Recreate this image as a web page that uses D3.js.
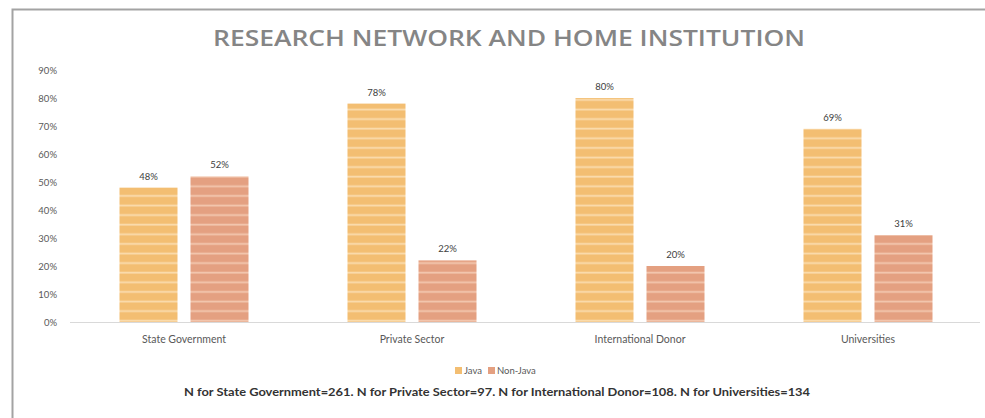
<!DOCTYPE html>
<html>
<head>
<meta charset="utf-8">
<script src="https://cdn.jsdelivr.net/npm/d3@7"></script>
<style>
  html, body { margin: 0; padding: 0; background: #fff; }
  svg { display: block; }
</style>
</head>
<body>
<svg id="chart" width="985" height="418"></svg>
<script>
// Share of researchers by research network and home institution
const categories = ["State Government", "Private Sector", "International Donor", "Universities"];
const seriesNames = ["Java", "Non-Java"];
const javaValues = [48, 78, 80, 69];
const nonJavaValues = [52, 22, 20, 31];
const yTickValues = [0, 10, 20, 30, 40, 50, 60, 70, 80, 90];
const titleText = "RESEARCH NETWORK AND HOME INSTITUTION";
const noteText = "N for State Government=261. N for Private Sector=97. N for International Donor=108. N for Universities=134";

const seriesValues = { "Java": javaValues, "Non-Java": nonJavaValues };
const colors = { "Java": "#F3BE72", "Non-Java": "#E4A081" };
const stripeColors = { "Java": "#FADCAE", "Non-Java": "#F3C7AF" };

const svg = d3.select("#chart");
const baseY = 322;
const plotLeft = 70, plotRight = 982;

const x = d3.scaleBand().domain(categories).range([plotLeft, plotRight]).padding(0);
const xs = d3.scaleBand().domain(seriesNames).range([0, x.bandwidth()])
  .paddingInner(13 / 71).paddingOuter(0.697);
const y = d3.scaleLinear().domain([0, 90]).range([baseY, 70]);

// Outer frame (top and left edges)
svg.append("path")
  .attr("d", "M12.5,418 L12.5,9.5 L985,9.5")
  .attr("fill", "none").attr("stroke", "#a3a3a3").attr("stroke-width", 2);

// Striped fills for bars
const defs = svg.append("defs");
seriesNames.forEach((s, i) => {
  const p = defs.append("pattern")
    .attr("id", "stripe" + i)
    .attr("patternUnits", "userSpaceOnUse")
    .attr("width", 10).attr("height", 9.6)
    .attr("y", baseY);
  p.append("rect").attr("width", 10).attr("height", 9.6).attr("fill", colors[s]);
  p.append("rect").attr("y", 7.4).attr("width", 10).attr("height", 1.8).attr("fill", stripeColors[s]);
});

// Title
svg.append("text")
  .attr("x", 509).attr("y", 46)
  .attr("text-anchor", "middle")
  .attr("font-family", "'Open Sans', Lato, sans-serif")
  .attr("font-weight", 600)
  .attr("font-size", 21)
  .attr("fill", "#858585")
  .attr("textLength", 592)
  .attr("lengthAdjust", "spacingAndGlyphs")
  .text(titleText);

// Y axis labels (no line, no ticks)
const yAxis = d3.axisLeft(y).tickValues(yTickValues).tickSize(0).tickPadding(0)
  .tickFormat(d => d + "%");
const yg = svg.append("g").attr("transform", "translate(57,0)").call(yAxis);
yg.select(".domain").remove();
yg.selectAll("text")
  .attr("font-family", "Lato, sans-serif").attr("font-size", 9.5).attr("fill", "#595959");

// Baseline and category labels
const xAxis = d3.axisBottom(x).tickSize(0).tickPadding(14);
const xg = svg.append("g").attr("transform", `translate(0,${baseY})`).call(xAxis);
xg.select(".domain").attr("stroke", "#d9d9d9").attr("stroke-width", 1.2)
  .attr("d", `M${plotLeft},0.5H${plotRight - 2}`);
xg.selectAll("text")
  .attr("font-family", "Lato, sans-serif").attr("font-size", 10.5).attr("fill", "#595959");

// Bars
const groups = svg.append("g").selectAll("g")
  .data(categories).join("g")
  .attr("transform", d => `translate(${x(d)},0)`);

seriesNames.forEach((s, si) => {
  groups.append("rect")
    .attr("x", xs(s))
    .attr("width", xs.bandwidth())
    .attr("y", (d, i) => y(seriesValues[s][i]))
    .attr("height", (d, i) => baseY - y(seriesValues[s][i]))
    .attr("fill", `url(#stripe${si})`);
  groups.append("text")
    .attr("x", xs(s) + xs.bandwidth() / 2)
    .attr("y", (d, i) => y(seriesValues[s][i]) - 8)
    .attr("text-anchor", "middle")
    .attr("font-family", "Lato, sans-serif").attr("font-size", 9.5)
    .attr("fill", "#404040")
    .text((d, i) => seriesValues[s][i] + "%");
});

// Legend
const legend = svg.append("g").attr("transform", "translate(455,371)");
const legendOffsets = [0, 33];
seriesNames.forEach((s, i) => {
  const g = legend.append("g").attr("transform", `translate(${legendOffsets[i]},0)`);
  g.append("rect").attr("x", 0).attr("y", -4).attr("width", 7).attr("height", 7).attr("fill", colors[s]);
  g.append("text").attr("x", 9).attr("y", 3)
    .attr("font-family", "Lato, sans-serif").attr("font-size", 9.5).attr("fill", "#595959")
    .text(s);
});

// Sample-size note
svg.append("text")
  .attr("x", 497).attr("y", 396)
  .attr("text-anchor", "middle")
  .attr("font-family", "Lato, sans-serif")
  .attr("font-weight", "bold")
  .attr("font-size", 10.5)
  .attr("fill", "#333333")
  .attr("textLength", 626)
  .attr("lengthAdjust", "spacingAndGlyphs")
  .text(noteText);
</script>
</body>
</html>
